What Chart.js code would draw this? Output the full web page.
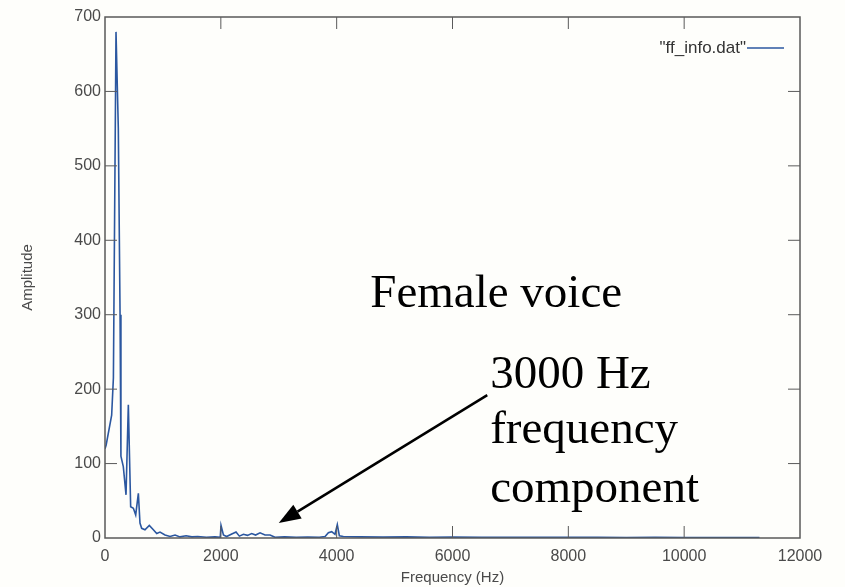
<!DOCTYPE html>
<html>
<head>
<meta charset="utf-8">
<script src="https://cdn.jsdelivr.net/npm/chart.js@4"></script>
<style>
  html, body { margin: 0; padding: 0; background: #fefefb; }
  #wrap { width: 845px; height: 587px; }
</style>
</head>
<body>
<div id="wrap"><canvas id="chart" width="845" height="587"></canvas></div>
<script>
// spectrum (Hz, amplitude)
const freqs = [0, 20, 115, 145, 190, 230, 260, 275, 316, 363, 403, 443, 490, 530, 576, 604, 633, 690, 765, 835,
  893, 950, 1036, 1123, 1210, 1295, 1400, 1500, 1600, 1750, 1900, 1990, 2003, 2045, 2100, 2180, 2262, 2320, 2390, 2460,
  2533, 2600, 2677, 2763, 2850, 2935, 3100, 3300, 3500, 3700, 3800, 3857, 3914, 3971, 4011, 4046, 4115, 4400, 4800, 5200,
  5600, 6000, 6500, 7000, 7500, 8000, 8500, 9000, 9500, 10000, 10500, 11000, 11300];
const amps = [120, 125, 165, 215, 680, 550, 300, 110, 96, 58, 179, 42, 40, 31, 60, 20, 13, 11, 17, 11,
  6, 8, 4, 2, 4, 1.5, 3, 1.5, 2, 1, 1.5, 1, 17, 4, 2, 5, 8, 2.5, 5, 3.5,
  6, 4, 7, 4, 4, 1, 1.5, 1, 1.2, 1, 2, 7, 8.5, 5, 18, 3, 2, 1.5, 1.2, 1.5,
  1, 1.2, 1, 1, 0.8, 1, 0.8, 0.7, 0.8, 0.6, 0.7, 0.5, 0.5];
const seriesName = '"ff_info.dat"';

const xTicks = [0, 2000, 4000, 6000, 8000, 10000, 12000];
const yTicks = [0, 100, 200, 300, 400, 500, 600, 700];

// hand-written notes on the slide, anchored in data units
const notes = [
  { text: 'Female voice', x: 4580, y: 310 },
  { text: '3000 Hz', x: 6650, y: 202 },
  { text: 'frequency', x: 6650, y: 128 },
  { text: 'component', x: 6650, y: 48 }
];
const arrow = { fromX: 6600, fromY: 192, toX: 3000, toY: 20 };

const frameColor = '#5a5a5a';
const lineColor = '#2b57a0';

const points = freqs.map((f, i) => ({ x: f, y: amps[i] }));

const framePlugin = {
  id: 'frame',
  afterDraw(chart) {
    const ctx = chart.ctx;
    const a = chart.chartArea;
    const xs = chart.scales.x, ys = chart.scales.y;
    ctx.save();
    ctx.strokeStyle = frameColor;
    ctx.lineWidth = 1.5;
    ctx.strokeRect(a.left, a.top, a.right - a.left, a.bottom - a.top);
    // inward ticks on all four sides
    ctx.lineWidth = 1;
    const len = 12;
    xTicks.forEach(v => {
      const px = xs.getPixelForValue(v);
      if (v === 0 || v === 12000) return;
      ctx.beginPath();
      ctx.moveTo(px, a.bottom); ctx.lineTo(px, a.bottom - len);
      ctx.moveTo(px, a.top); ctx.lineTo(px, a.top + len);
      ctx.stroke();
    });
    yTicks.forEach(v => {
      const py = ys.getPixelForValue(v);
      if (v === 0 || v === 700) return;
      ctx.beginPath();
      ctx.moveTo(a.left, py); ctx.lineTo(a.left + len, py);
      ctx.moveTo(a.right, py); ctx.lineTo(a.right - len, py);
      ctx.stroke();
    });

    // legend key, top right inside the box
    const ly = a.top + 31;
    ctx.fillStyle = '#333';
    ctx.font = '17px "Liberation Sans", Arial, sans-serif';
    ctx.textAlign = 'right';
    ctx.textBaseline = 'middle';
    ctx.fillText(seriesName, a.right - 54, ly);
    ctx.strokeStyle = lineColor;
    ctx.lineWidth = 1.5;
    ctx.beginPath();
    ctx.moveTo(a.right - 53, ly); ctx.lineTo(a.right - 16, ly);
    ctx.stroke();

    // notes and arrow
    ctx.fillStyle = '#000';
    ctx.font = '47px "Liberation Serif", "Times New Roman", serif';
    ctx.textAlign = 'left';
    ctx.textBaseline = 'alphabetic';
    notes.forEach(n => {
      ctx.fillText(n.text, xs.getPixelForValue(n.x), ys.getPixelForValue(n.y));
    });
    const x1 = xs.getPixelForValue(arrow.fromX), y1 = ys.getPixelForValue(arrow.fromY);
    const x2 = xs.getPixelForValue(arrow.toX), y2 = ys.getPixelForValue(arrow.toY);
    const ang = Math.atan2(y2 - y1, x2 - x1);
    const head = 22, hw = 8;
    const bx = x2 - head * Math.cos(ang), by = y2 - head * Math.sin(ang);
    ctx.strokeStyle = '#000';
    ctx.lineWidth = 2.5;
    ctx.beginPath();
    ctx.moveTo(x1, y1); ctx.lineTo(bx, by);
    ctx.stroke();
    ctx.beginPath();
    ctx.moveTo(x2, y2);
    ctx.lineTo(bx + hw * Math.sin(ang), by - hw * Math.cos(ang));
    ctx.lineTo(bx - hw * Math.sin(ang), by + hw * Math.cos(ang));
    ctx.closePath();
    ctx.fill();
    ctx.restore();
  }
};

const tickFont = { family: '"Liberation Sans", Arial, sans-serif', size: 16 };
const titleFont = { family: '"Liberation Sans", Arial, sans-serif', size: 15 };

new Chart(document.getElementById('chart'), {
  type: 'line',
  data: {
    datasets: [{
      label: seriesName,
      data: points,
      borderColor: lineColor,
      borderWidth: 1.6,
      pointRadius: 0,
      tension: 0,
      fill: false
    }]
  },
  options: {
    responsive: false,
    animation: false,
    layout: { padding: { top: 17, right: 45, left: 0, bottom: 0 } },
    plugins: { legend: { display: false }, tooltip: { enabled: false } },
    scales: {
      x: {
        type: 'linear',
        min: 0, max: 12000,
        afterBuildTicks: s => { s.ticks = xTicks.map(v => ({ value: v })); },
        afterFit: s => { s.height = 49; },
        grid: { display: false, drawTicks: false },
        border: { display: false },
        ticks: { color: '#4a4a4a', font: tickFont, padding: 9, maxRotation: 0, callback: v => String(v) },
        title: { display: true, text: 'Frequency (Hz)', color: '#4a4a4a', font: titleFont, padding: { top: 0, bottom: 0 } }
      },
      y: {
        min: 0, max: 700,
        afterBuildTicks: s => { s.ticks = yTicks.map(v => ({ value: v })); },
        afterFit: s => { s.width = 105; },
        grid: { display: false, drawTicks: false },
        border: { display: false },
        ticks: { color: '#4a4a4a', font: tickFont, padding: 4, callback: v => String(v) },
        title: { display: true, text: 'Amplitude', color: '#4a4a4a', font: titleFont, padding: { top: 19, bottom: 0 } }
      }
    }
  },
  plugins: [framePlugin]
});
</script>
</body>
</html>
